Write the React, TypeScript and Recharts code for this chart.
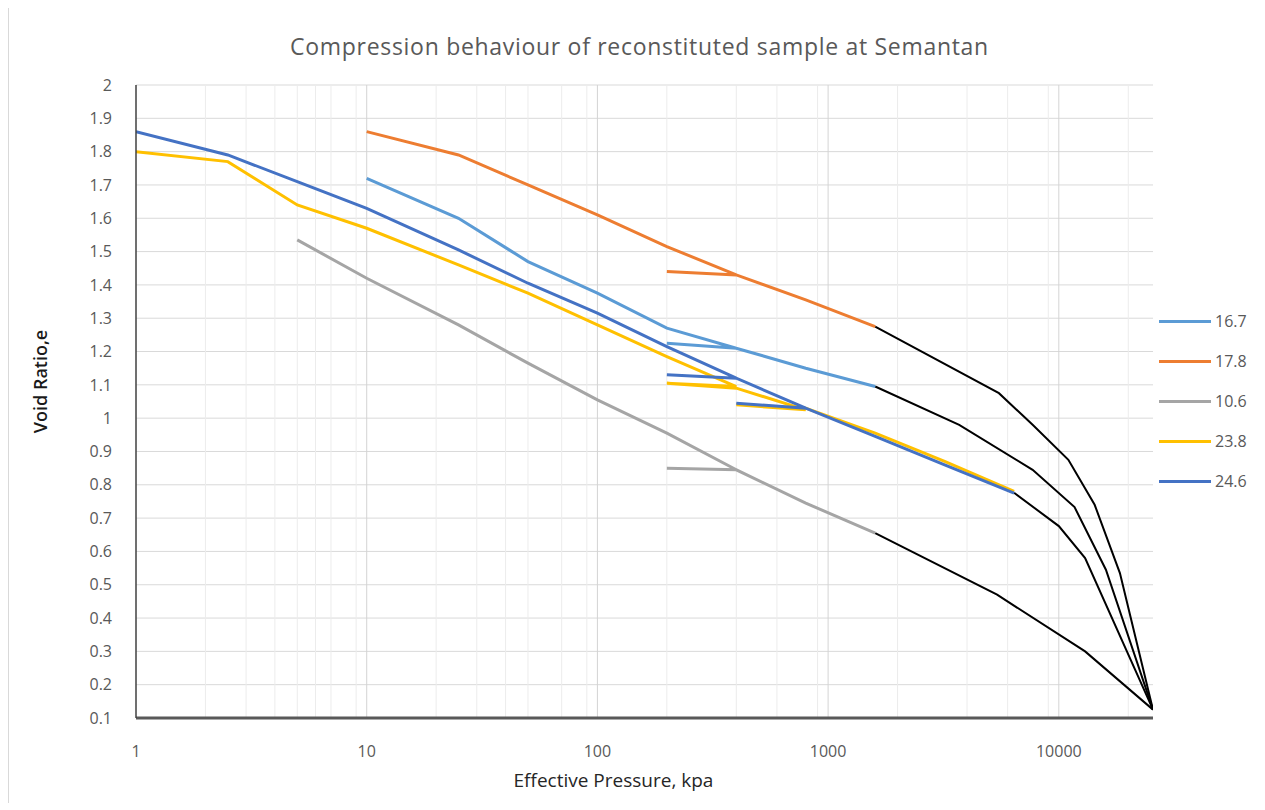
import { LineChart, Line, XAxis, YAxis, CartesianGrid } from "recharts";

// Pressures (kPa) and void ratios, in loading order
const p167 = [10, 25, 50, 100, 200, 400, 200, 400, 800, 1600];
const e167 = [1.72, 1.6, 1.47, 1.375, 1.27, 1.21, 1.225, 1.21, 1.15, 1.095];

const p178 = [10, 25, 50, 100, 200, 400, 200, 400, 800, 1600];
const e178 = [1.86, 1.79, 1.7, 1.61, 1.515, 1.43, 1.44, 1.43, 1.355, 1.275];

const p106 = [5, 10, 25, 50, 100, 200, 400, 200, 400, 800, 1600];
const e106 = [1.535, 1.42, 1.28, 1.165, 1.055, 0.955, 0.845, 0.85, 0.845, 0.745, 0.655];

const p238 = [1, 2.5, 5, 10, 25, 50, 100, 200, 400, 200, 400, 800, 400, 800, 1600, 3200, 6400];
const e238 = [1.8, 1.77, 1.64, 1.57, 1.46, 1.375, 1.28, 1.185, 1.095, 1.105, 1.09, 1.025, 1.04, 1.03, 0.955, 0.87, 0.78];

const p246 = [1, 2.5, 5, 10, 25, 50, 100, 200, 400, 200, 400, 800, 400, 800, 1600, 3200, 6400];
const e246 = [1.86, 1.79, 1.71, 1.63, 1.505, 1.405, 1.315, 1.215, 1.12, 1.13, 1.12, 1.03, 1.045, 1.03, 0.945, 0.86, 0.775];

// black extrapolated tails (not in legend)
const pExt178 = [1600, 5500, 7700, 11000, 14300, 18400, 25600];
const eExt178 = [1.275, 1.075, 0.98, 0.875, 0.74, 0.535, 0.125];
const pExt167 = [1600, 3700, 7700, 11700, 16000, 25600];
const eExt167 = [1.095, 0.98, 0.845, 0.733, 0.545, 0.125];
const pExt238 = [6400, 10000, 13000, 25600];
const eExt238 = [0.776, 0.676, 0.58, 0.125];
const pExt106 = [1600, 5400, 13000, 25600];
const eExt106 = [0.655, 0.47, 0.3, 0.125];

const xTicks = [1, 10, 100, 1000, 10000];
const xMajor = [10, 100, 1000, 10000];
const xMinor = [
  2, 3, 4, 5, 6, 7, 8, 9,
  20, 30, 40, 50, 60, 70, 80, 90,
  200, 300, 400, 500, 600, 700, 800, 900,
  2000, 3000, 4000, 5000, 6000, 7000, 8000, 9000,
  20000,
];
const yTicks = [0.1, 0.2, 0.3, 0.4, 0.5, 0.6, 0.7, 0.8, 0.9, 1, 1.1, 1.2, 1.3, 1.4, 1.5, 1.6, 1.7, 1.8, 1.9, 2];

const zip = (p: number[], e: number[]) => p.map((v, i) => ({ p: v, e: e[i] }));

const series = [
  { name: "16.7", color: "#5B9BD5", data: zip(p167, e167) },
  { name: "17.8", color: "#ED7D31", data: zip(p178, e178) },
  { name: "10.6", color: "#A5A5A5", data: zip(p106, e106) },
  { name: "23.8", color: "#FFC000", data: zip(p238, e238) },
  { name: "24.6", color: "#4472C4", data: zip(p246, e246) },
];

const tails = [
  zip(pExt178, eExt178),
  zip(pExt167, eExt167),
  zip(pExt238, eExt238),
  zip(pExt106, eExt106),
];

const font = "'Open Sans', 'Noto Sans', sans-serif";

export default function App() {
  return (
    <div
      style={{
        position: "relative",
        width: 1250,
        height: 795,
        fontFamily: font,
        borderLeft: "1px solid #d9d9d9",
        boxSizing: "border-box",
      }}
    >
      <div
        style={{
          position: "absolute",
          top: 22,
          left: 0,
          width: 1261,
          textAlign: "center",
          fontSize: 23,
          letterSpacing: 0.7,
          color: "#595959",
        }}
      >
        Compression behaviour of reconstituted sample at Semantan
      </div>

      <LineChart
        width={1250}
        height={795}
        margin={{ top: 77, right: 106, bottom: 0, left: 20 }}
      >
        <CartesianGrid vertical={false} stroke="#d9d9d9" horizontalValues={yTicks} />
        <CartesianGrid horizontal={false} stroke="#ececec" verticalValues={xMinor} />
        <CartesianGrid horizontal={false} stroke="#d4d4d4" verticalValues={xMajor} />
        <XAxis
          type="number"
          dataKey="p"
          scale="log"
          domain={[1, 25600]}
          allowDataOverflow
          ticks={xTicks}
          height={85}
          tickLine={false}
          tickMargin={22}
          axisLine={{ stroke: "#595959", strokeWidth: 3 }}
          tick={{ fill: "#595959", fontSize: 16 }}
          label={{
            value: "Effective Pressure, kpa",
            position: "insideBottom",
            offset: 16,
            dx: -31,
            style: { fill: "#262626", fontSize: 19 },
          }}
        />
        <YAxis
          type="number"
          domain={[0.1, 2]}
          ticks={yTicks}
          interval={0}
          width={107}
          tickLine={false}
          tickMargin={18}
          axisLine={{ stroke: "#404040", strokeWidth: 1.5 }}
          tick={{ fill: "#595959", fontSize: 16 }}
          tickFormatter={(v: number) => String(Math.round(v * 10) / 10)}
          label={{
            value: "Void Ratio,e",
            angle: -90,
            position: "insideLeft",
            offset: 12,
            dy: -20,
            style: { fill: "#1a1a1a", fontSize: 18, fontWeight: 600, textAnchor: "middle" },
          }}
        />
        {tails.map((d, i) => (
          <Line
            key={"tail" + i}
            data={d}
            dataKey="e"
            stroke="#000"
            strokeWidth={2}
            dot={false}
            isAnimationActive={false}
            legendType="none"
          />
        ))}
        {series.map((s) => (
          <Line
            key={s.name}
            data={s.data}
            dataKey="e"
            name={s.name}
            stroke={s.color}
            strokeWidth={3}
            dot={false}
            isAnimationActive={false}
          />
        ))}
      </LineChart>

      {/* Legend */}
      <div style={{ position: "absolute", left: 1150, top: 293 }}>
        {series.map((s) => (
          <div
            key={s.name}
            style={{ display: "flex", alignItems: "center", height: 40 }}
          >
            <span
              style={{
                display: "inline-block",
                width: 52,
                height: 3,
                background: s.color,
                marginRight: 4,
              }}
            />
            <span style={{ fontSize: 16, color: "#595959" }}>{s.name}</span>
          </div>
        ))}
      </div>
    </div>
  );
}
